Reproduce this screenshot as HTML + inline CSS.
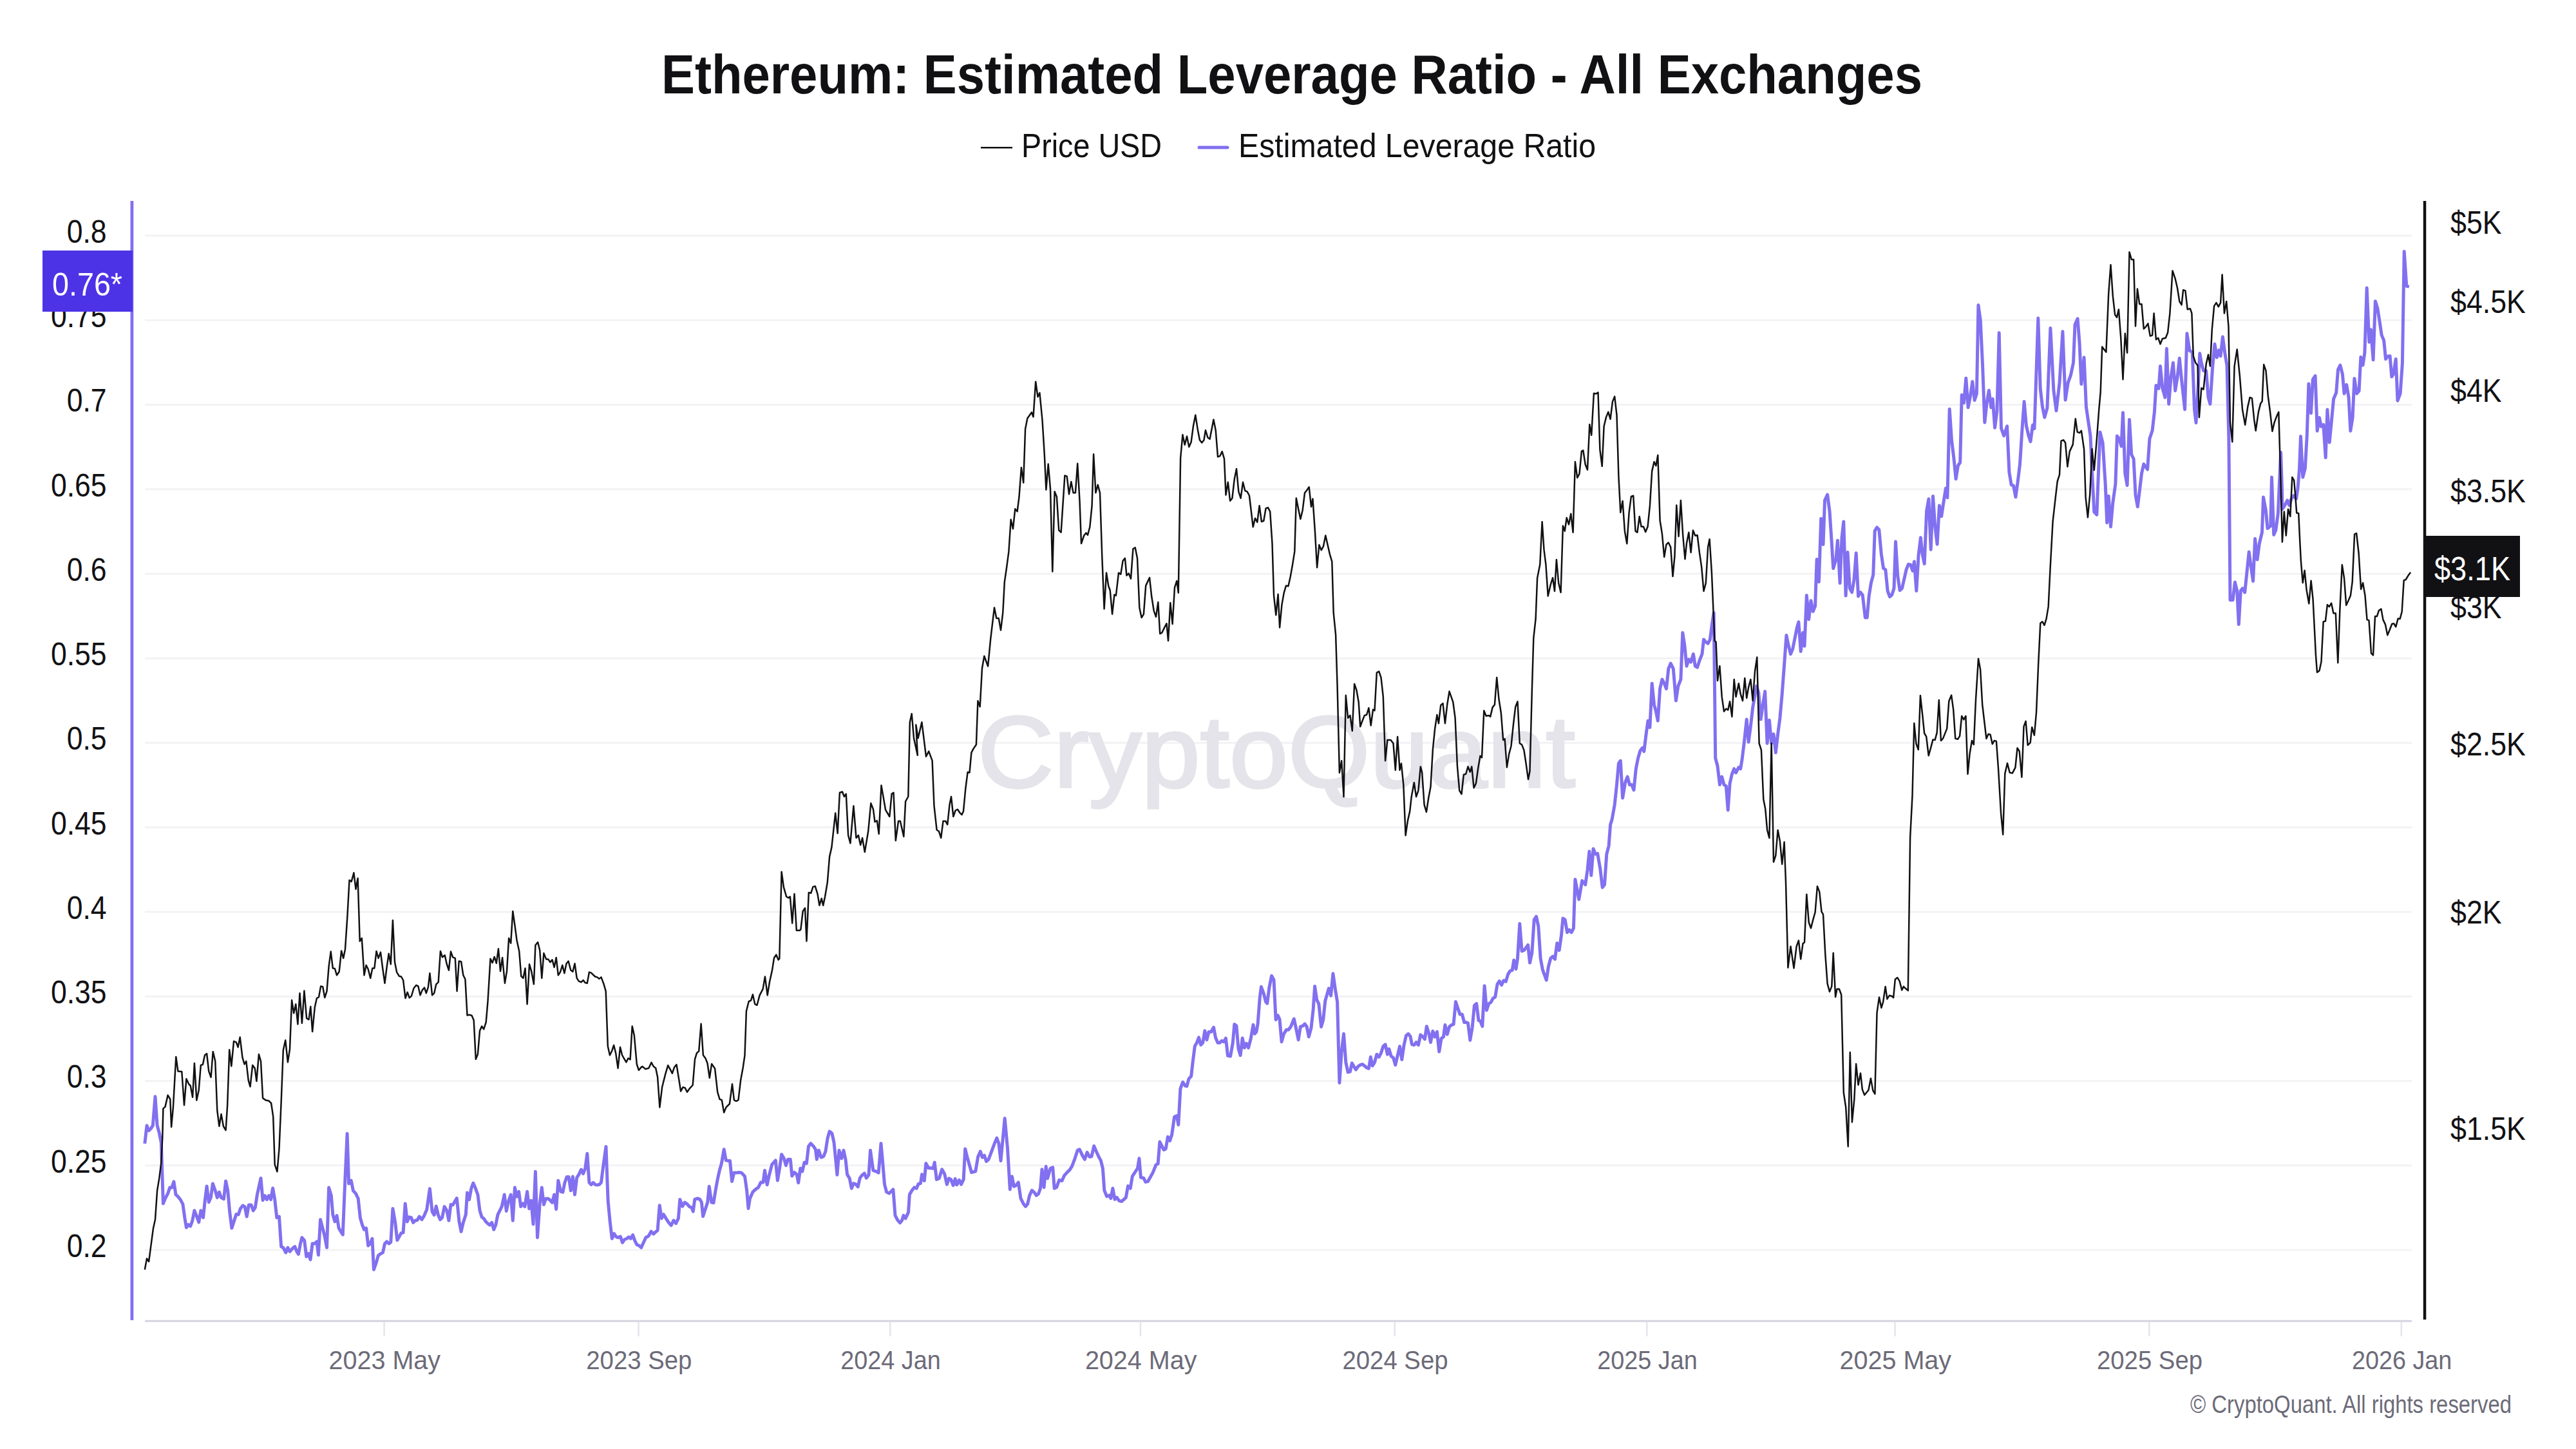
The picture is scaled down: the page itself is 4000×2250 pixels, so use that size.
<!DOCTYPE html>
<html><head><meta charset="utf-8"><style>
html,body{margin:0;padding:0;background:#fff;width:4000px;height:2250px;overflow:hidden}
svg{position:absolute;left:0;top:0}
text{font-family:"Liberation Sans",sans-serif}
</style></head><body>
<svg width="4000" height="2250" viewBox="0 0 4000 2250">
<rect width="4000" height="2250" fill="#fff"/>
<text x="1027" y="145" font-weight="bold" font-size="85" fill="#111114" textLength="1958" lengthAdjust="spacingAndGlyphs">Ethereum: Estimated Leverage Ratio - All Exchanges</text>
<rect x="1523" y="228" width="49" height="2.5" fill="#111114"/>
<text x="1586" y="243.5" font-size="52" fill="#111114" textLength="218" lengthAdjust="spacingAndGlyphs">Price USD</text>
<line x1="1862" x2="1906" y1="229" y2="229" stroke="#8170f0" stroke-width="5" stroke-linecap="round"/>
<text x="1923" y="243.5" font-size="52" fill="#111114" textLength="555" lengthAdjust="spacingAndGlyphs">Estimated Leverage Ratio</text>
<rect x="225" y="364.5" width="3520" height="3" fill="#f3f3f6"/><rect x="225" y="495.8" width="3520" height="3" fill="#f3f3f6"/><rect x="225" y="627.0" width="3520" height="3" fill="#f3f3f6"/><rect x="225" y="758.2" width="3520" height="3" fill="#f3f3f6"/><rect x="225" y="889.5" width="3520" height="3" fill="#f3f3f6"/><rect x="225" y="1020.8" width="3520" height="3" fill="#f3f3f6"/><rect x="225" y="1152.0" width="3520" height="3" fill="#f3f3f6"/><rect x="225" y="1283.2" width="3520" height="3" fill="#f3f3f6"/><rect x="225" y="1414.5" width="3520" height="3" fill="#f3f3f6"/><rect x="225" y="1545.8" width="3520" height="3" fill="#f3f3f6"/><rect x="225" y="1677.0" width="3520" height="3" fill="#f3f3f6"/><rect x="225" y="1808.2" width="3520" height="3" fill="#f3f3f6"/><rect x="225" y="1939.5" width="3520" height="3" fill="#f3f3f6"/>
<text x="1518" y="1222" font-size="157" fill="#e4e4ea" stroke="#e4e4ea" stroke-width="3.5" textLength="928" lengthAdjust="spacingAndGlyphs">CryptoQuant</text>
<rect x="225" y="2049.8" width="3520" height="3" fill="#d4d3df"/>
<rect x="595.3" y="2052" width="2.5" height="23" fill="#e4e4ec"/><text x="597.3" y="2125.8" text-anchor="middle" font-size="40" fill="#6c6b78" textLength="173.6" lengthAdjust="spacingAndGlyphs">2023 May</text><rect x="990.3" y="2052" width="2.5" height="23" fill="#e4e4ec"/><text x="992.3" y="2125.8" text-anchor="middle" font-size="40" fill="#6c6b78" textLength="164.1" lengthAdjust="spacingAndGlyphs">2023 Sep</text><rect x="1381.0" y="2052" width="2.5" height="23" fill="#e4e4ec"/><text x="1383.0" y="2125.8" text-anchor="middle" font-size="40" fill="#6c6b78" textLength="155.4" lengthAdjust="spacingAndGlyphs">2024 Jan</text><rect x="1769.7" y="2052" width="2.5" height="23" fill="#e4e4ec"/><text x="1771.7" y="2125.8" text-anchor="middle" font-size="40" fill="#6c6b78" textLength="173.6" lengthAdjust="spacingAndGlyphs">2024 May</text><rect x="2164.5" y="2052" width="2.5" height="23" fill="#e4e4ec"/><text x="2166.5" y="2125.8" text-anchor="middle" font-size="40" fill="#6c6b78" textLength="164.1" lengthAdjust="spacingAndGlyphs">2024 Sep</text><rect x="2556.0" y="2052" width="2.5" height="23" fill="#e4e4ec"/><text x="2558.0" y="2125.8" text-anchor="middle" font-size="40" fill="#6c6b78" textLength="155.4" lengthAdjust="spacingAndGlyphs">2025 Jan</text><rect x="2941.3" y="2052" width="2.5" height="23" fill="#e4e4ec"/><text x="2943.3" y="2125.8" text-anchor="middle" font-size="40" fill="#6c6b78" textLength="173.6" lengthAdjust="spacingAndGlyphs">2025 May</text><rect x="3336.0" y="2052" width="2.5" height="23" fill="#e4e4ec"/><text x="3338.0" y="2125.8" text-anchor="middle" font-size="40" fill="#6c6b78" textLength="164.1" lengthAdjust="spacingAndGlyphs">2025 Sep</text><rect x="3727.6" y="2052" width="2.5" height="23" fill="#e4e4ec"/><text x="3729.6" y="2125.8" text-anchor="middle" font-size="40" fill="#6c6b78" textLength="155.4" lengthAdjust="spacingAndGlyphs">2026 Jan</text>
<rect x="202.5" y="312" width="4.8" height="1738" fill="#8170f0"/>
<rect x="3762.8" y="312" width="4.5" height="1737" fill="#111114"/>
<text x="165.6" y="376.7" text-anchor="end" font-size="50" fill="#111114" textLength="61.9" lengthAdjust="spacingAndGlyphs">0.8</text><text x="165.6" y="508.0" text-anchor="end" font-size="50" fill="#111114" textLength="86.6" lengthAdjust="spacingAndGlyphs">0.75</text><text x="165.6" y="639.2" text-anchor="end" font-size="50" fill="#111114" textLength="61.9" lengthAdjust="spacingAndGlyphs">0.7</text><text x="165.6" y="770.5" text-anchor="end" font-size="50" fill="#111114" textLength="86.6" lengthAdjust="spacingAndGlyphs">0.65</text><text x="165.6" y="901.7" text-anchor="end" font-size="50" fill="#111114" textLength="61.9" lengthAdjust="spacingAndGlyphs">0.6</text><text x="165.6" y="1033.0" text-anchor="end" font-size="50" fill="#111114" textLength="86.6" lengthAdjust="spacingAndGlyphs">0.55</text><text x="165.6" y="1164.2" text-anchor="end" font-size="50" fill="#111114" textLength="61.9" lengthAdjust="spacingAndGlyphs">0.5</text><text x="165.6" y="1295.5" text-anchor="end" font-size="50" fill="#111114" textLength="86.6" lengthAdjust="spacingAndGlyphs">0.45</text><text x="165.6" y="1426.7" text-anchor="end" font-size="50" fill="#111114" textLength="61.9" lengthAdjust="spacingAndGlyphs">0.4</text><text x="165.6" y="1558.0" text-anchor="end" font-size="50" fill="#111114" textLength="86.6" lengthAdjust="spacingAndGlyphs">0.35</text><text x="165.6" y="1689.2" text-anchor="end" font-size="50" fill="#111114" textLength="61.9" lengthAdjust="spacingAndGlyphs">0.3</text><text x="165.6" y="1820.5" text-anchor="end" font-size="50" fill="#111114" textLength="86.6" lengthAdjust="spacingAndGlyphs">0.25</text><text x="165.6" y="1951.7" text-anchor="end" font-size="50" fill="#111114" textLength="61.9" lengthAdjust="spacingAndGlyphs">0.2</text>
<text x="3805" y="362.8" font-size="50" fill="#111114" textLength="79.6" lengthAdjust="spacingAndGlyphs">$5K</text><text x="3805" y="485.9" font-size="50" fill="#111114" textLength="116.9" lengthAdjust="spacingAndGlyphs">$4.5K</text><text x="3805" y="623.6" font-size="50" fill="#111114" textLength="79.6" lengthAdjust="spacingAndGlyphs">$4K</text><text x="3805" y="779.6" font-size="50" fill="#111114" textLength="116.9" lengthAdjust="spacingAndGlyphs">$3.5K</text><text x="3805" y="959.8" font-size="50" fill="#111114" textLength="79.6" lengthAdjust="spacingAndGlyphs">$3K</text><text x="3805" y="1172.9" font-size="50" fill="#111114" textLength="116.9" lengthAdjust="spacingAndGlyphs">$2.5K</text><text x="3805" y="1433.7" font-size="50" fill="#111114" textLength="79.6" lengthAdjust="spacingAndGlyphs">$2K</text><text x="3805" y="1769.9" font-size="50" fill="#111114" textLength="116.9" lengthAdjust="spacingAndGlyphs">$1.5K</text>
<polyline fill="none" stroke="#8170f0" stroke-width="5" stroke-linejoin="round" points="224.8,1775.8 228.0,1747.8 231.1,1755.6 234.2,1752.5 237.3,1747.8 241.0,1702.8 244.1,1747.8 247.2,1758.7 250.3,1774.2 253.4,1868.9 256.5,1861.2 260.6,1853.4 263.7,1844.1 266.8,1844.1 269.9,1834.8 273.0,1855.0 277.0,1858.7 280.1,1862.7 283.9,1869.9 287.0,1892.2 289.4,1906.2 292.5,1901.6 295.7,1904.0 298.8,1895.3 301.9,1879.8 305.6,1889.1 308.7,1897.8 311.8,1879.8 315.5,1890.7 318.6,1861.2 321.1,1841.9 324.2,1866.8 327.3,1859.6 330.4,1837.9 334.2,1848.8 337.3,1859.6 340.4,1851.2 343.5,1859.6 347.5,1861.8 350.6,1833.9 353.7,1848.8 356.8,1882.9 359.9,1907.1 363.7,1895.3 366.8,1885.4 370.2,1886.0 373.3,1876.7 377.0,1872.0 380.1,1873.6 383.2,1889.1 386.3,1871.1 390.1,1871.1 393.2,1879.8 396.3,1875.2 399.4,1855.0 405.0,1829.5 408.1,1863.7 411.2,1856.5 414.3,1862.7 417.4,1856.5 420.5,1862.7 423.6,1845.0 426.7,1862.7 429.8,1890.7 433.5,1889.1 436.6,1935.7 439.8,1937.3 443.8,1945.0 446.9,1937.3 450.0,1943.5 454.0,1938.8 457.8,1935.7 460.9,1943.5 463.4,1947.5 466.5,1931.1 468.9,1921.7 472.7,1926.4 475.8,1951.2 478.9,1946.6 482.0,1955.9 485.1,1931.1 488.8,1931.1 491.9,1928.0 494.4,1948.8 497.5,1893.8 501.2,1907.8 504.3,1920.2 507.5,1937.3 510.6,1844.1 514.3,1856.5 516.8,1886.0 519.9,1896.9 523.0,1887.6 526.1,1907.1 529.2,1912.4 532.3,1917.1 535.4,1842.5 539.1,1760.2 541.6,1837.9 545.3,1833.2 548.4,1848.8 552.5,1853.4 556.2,1861.2 559.3,1890.7 562.4,1901.6 565.5,1909.3 568.6,1907.1 571.7,1934.2 574.8,1931.1 578.0,1923.3 580.4,1971.4 584.2,1960.6 587.3,1949.7 591.3,1946.6 594.4,1945.0 597.5,1931.1 600.6,1928.0 603.7,1931.1 606.8,1928.9 609.9,1876.7 613.7,1898.4 616.8,1925.8 619.9,1920.2 623.0,1914.6 626.1,1914.0 629.2,1868.9 632.3,1896.9 635.4,1889.8 638.5,1890.7 641.6,1898.4 644.7,1895.3 647.8,1894.7 651.2,1889.1 655.0,1893.8 658.7,1887.6 662.7,1878.3 667.4,1845.7 671.1,1881.4 674.2,1886.6 677.3,1873.0 680.4,1886.6 683.5,1893.8 686.6,1890.7 690.1,1873.6 693.8,1879.8 696.9,1895.3 700.0,1870.5 703.1,1871.1 706.2,1865.8 709.3,1860.6 713.0,1896.9 716.1,1912.4 719.3,1898.4 723.3,1886.0 725.5,1851.9 728.6,1862.7 731.7,1845.7 734.8,1837.0 737.9,1844.1 741.9,1855.0 745.0,1879.8 748.1,1889.8 751.2,1892.2 754.3,1896.9 757.5,1900.0 760.6,1902.2 763.7,1898.4 766.8,1909.3 769.9,1901.6 773.0,1886.0 776.1,1879.8 779.2,1873.6 783.2,1855.0 786.3,1880.4 789.4,1865.8 793.2,1855.0 796.3,1895.3 799.4,1844.1 802.5,1858.1 805.6,1850.3 808.7,1873.6 811.8,1868.9 814.9,1873.6 818.6,1850.3 821.7,1876.7 824.8,1864.3 828.0,1900.9 831.4,1819.3 834.5,1921.7 838.2,1868.9 841.3,1844.1 844.4,1870.5 847.5,1861.2 851.2,1861.2 854.3,1863.7 857.5,1867.4 860.6,1855.0 863.7,1877.6 866.8,1833.2 870.8,1850.3 873.9,1851.2 877.0,1836.3 880.1,1827.6 883.2,1827.6 886.3,1848.8 889.4,1827.0 892.5,1855.0 895.7,1828.6 898.8,1823.9 902.5,1816.1 905.6,1822.4 908.7,1814.6 911.8,1791.3 914.9,1836.3 918.0,1839.4 921.1,1836.3 924.2,1839.4 927.3,1840.1 930.4,1839.4 933.5,1836.3 936.6,1811.5 941.0,1780.4 944.1,1864.3 947.2,1896.9 950.3,1923.3 953.4,1915.5 956.5,1920.2 959.6,1921.7 963.4,1920.2 966.5,1929.5 969.6,1924.8 973.3,1923.3 976.4,1920.8 979.5,1923.3 982.6,1917.7 985.7,1926.4 988.8,1932.6 992.5,1934.2 995.7,1937.3 999.3,1929.2 1003.0,1921.4 1007.1,1919.3 1011.1,1912.1 1014.8,1916.1 1018.0,1913.0 1021.1,1910.6 1024.2,1871.7 1027.3,1891.9 1030.4,1885.7 1034.1,1891.9 1038.1,1898.1 1042.2,1902.8 1045.9,1895.0 1049.6,1899.7 1053.4,1891.9 1055.8,1862.4 1059.6,1873.3 1063.3,1867.1 1067.0,1869.6 1070.7,1873.9 1073.9,1874.8 1076.3,1881.1 1078.8,1862.4 1083.2,1860.9 1086.9,1862.4 1089.4,1867.1 1091.6,1888.8 1095.6,1876.4 1098.7,1867.1 1101.2,1842.2 1104.9,1867.1 1108.0,1867.7 1111.1,1848.4 1114.2,1831.4 1117.3,1817.4 1120.4,1806.5 1124.2,1784.8 1127.3,1801.9 1131.3,1802.5 1133.5,1802.5 1136.6,1834.5 1139.7,1821.1 1143.7,1821.1 1147.8,1820.5 1151.5,1821.1 1156.5,1826.7 1159.6,1848.4 1162.0,1876.4 1164.5,1860.9 1168.9,1850.9 1173.2,1846.9 1177.6,1843.8 1181.3,1836.0 1185.0,1836.0 1187.5,1817.4 1191.2,1839.8 1194.3,1825.2 1198.7,1808.1 1204.3,1801.9 1207.4,1832.9 1210.5,1814.3 1213.6,1792.5 1217.3,1798.8 1220.4,1809.6 1223.5,1800.3 1227.3,1800.3 1229.8,1826.1 1233.5,1820.5 1237.2,1823.6 1239.7,1836.6 1242.8,1814.3 1245.9,1818.9 1249.0,1805.0 1252.4,1806.5 1255.5,1780.1 1258.9,1775.5 1263.3,1780.1 1266.4,1784.8 1268.3,1800.3 1271.4,1786.3 1275.1,1797.2 1278.8,1795.7 1281.9,1787.9 1285.0,1767.7 1288.1,1756.8 1291.9,1759.9 1295.0,1773.9 1297.5,1798.8 1299.9,1824.2 1303.0,1786.3 1306.8,1798.8 1309.9,1786.3 1313.0,1800.3 1315.5,1823.6 1319.2,1829.8 1322.3,1845.3 1325.4,1837.6 1329.1,1839.1 1332.2,1842.9 1335.3,1829.2 1339.1,1824.2 1342.2,1822.0 1345.3,1829.2 1349.0,1824.2 1351.5,1786.3 1355.8,1817.4 1360.2,1818.9 1364.2,1821.1 1368.0,1775.5 1370.4,1801.9 1373.5,1839.1 1376.6,1850.9 1380.7,1853.1 1383.8,1850.0 1386.9,1846.9 1390.0,1887.3 1393.7,1894.4 1397.5,1898.8 1400.6,1895.0 1403.0,1887.3 1406.1,1891.9 1410.5,1882.6 1412.4,1854.7 1416.1,1848.4 1419.8,1843.8 1423.2,1845.3 1426.0,1838.5 1429.4,1837.6 1431.6,1823.6 1435.3,1833.5 1437.8,1806.5 1441.9,1813.7 1445.3,1813.7 1449.0,1814.3 1451.2,1805.0 1454.3,1831.4 1458.3,1829.8 1462.7,1815.8 1466.7,1823.0 1470.4,1839.1 1473.5,1829.8 1476.6,1831.4 1480.1,1840.7 1483.2,1830.4 1485.7,1839.8 1489.4,1832.3 1492.5,1839.1 1496.2,1831.4 1498.7,1783.9 1502.4,1798.8 1508.6,1820.5 1514.8,1818.9 1518.6,1796.3 1522.3,1787.9 1525.4,1797.2 1528.5,1794.1 1531.6,1803.4 1535.0,1800.3 1539.7,1787.9 1544.3,1775.5 1547.8,1767.1 1550.9,1775.5 1554.0,1802.5 1560.2,1736.6 1564.5,1783.2 1568.3,1846.9 1571.4,1826.7 1574.5,1842.2 1577.6,1840.7 1581.3,1836.0 1585.0,1860.9 1589.4,1869.6 1592.5,1873.3 1595.6,1869.6 1598.7,1856.2 1602.4,1848.4 1606.1,1851.6 1609.3,1856.2 1612.4,1854.0 1615.5,1845.3 1618.0,1815.8 1621.1,1843.8 1624.2,1811.2 1626.6,1829.8 1631.0,1814.3 1634.7,1812.7 1637.2,1845.3 1640.6,1843.8 1644.7,1832.3 1649.0,1833.5 1652.7,1825.2 1656.5,1821.1 1660.8,1816.8 1664.5,1811.2 1668.6,1800.3 1673.2,1786.3 1676.3,1784.8 1680.7,1794.1 1684.4,1800.3 1688.1,1789.4 1691.9,1796.3 1695.0,1795.7 1698.7,1779.5 1703.0,1789.4 1706.1,1796.3 1709.3,1801.9 1712.4,1814.3 1714.8,1848.4 1718.6,1857.8 1722.3,1856.2 1724.8,1860.9 1727.9,1845.3 1731.0,1862.4 1734.1,1859.3 1737.8,1864.6 1741.6,1865.5 1745.3,1862.4 1748.4,1859.3 1751.5,1841.6 1755.2,1845.3 1758.3,1826.7 1763.3,1818.9 1766.4,1814.3 1768.9,1798.8 1771.4,1828.3 1775.7,1829.2 1778.8,1835.4 1782.5,1834.5 1790.0,1821.1 1792.5,1814.9 1795.0,1808.7 1798.1,1807.1 1800.9,1773.0 1804.0,1779.2 1807.1,1785.4 1810.2,1783.9 1813.4,1765.2 1816.5,1771.4 1819.6,1762.1 1823.6,1734.2 1827.3,1732.6 1829.8,1746.6 1832.9,1690.7 1836.6,1680.4 1840.4,1686.0 1842.9,1686.6 1846.0,1675.2 1849.7,1671.1 1852.2,1648.8 1855.3,1624.5 1858.4,1619.3 1861.5,1610.9 1864.6,1622.4 1867.7,1619.3 1870.8,1600.6 1873.9,1614.6 1877.0,1602.2 1880.7,1602.2 1884.5,1595.3 1887.6,1611.5 1891.0,1619.3 1894.1,1619.3 1897.2,1616.1 1900.3,1617.7 1903.4,1612.1 1906.5,1639.4 1910.6,1640.1 1914.3,1619.3 1916.8,1590.4 1919.9,1592.9 1923.0,1628.6 1926.1,1638.8 1929.2,1612.1 1932.3,1627.0 1935.4,1620.2 1938.5,1627.0 1942.2,1613.0 1946.0,1591.3 1948.4,1605.3 1950.9,1602.2 1953.1,1589.8 1956.2,1549.4 1958.4,1532.3 1962.4,1543.2 1965.5,1555.6 1967.7,1558.1 1970.8,1533.9 1974.5,1515.2 1978.0,1521.4 1981.1,1583.5 1984.2,1576.7 1987.0,1582.9 1990.1,1617.7 1993.5,1605.3 1997.5,1599.1 2000.6,1599.1 2004.3,1594.4 2009.3,1582.0 2013.0,1599.1 2016.1,1614.6 2019.3,1594.4 2023.0,1592.9 2026.1,1589.8 2029.2,1594.4 2032.3,1609.9 2036.0,1596.0 2039.1,1568.0 2041.6,1531.4 2044.7,1552.5 2047.8,1558.7 2051.6,1594.4 2054.7,1583.5 2057.8,1554.0 2063.3,1534.9 2066.6,1546.1 2069.9,1511.7 2073.3,1535.7 2076.6,1555.6 2079.9,1681.5 2083.2,1633.0 2086.5,1605.3 2089.8,1649.6 2093.1,1664.9 2096.4,1664.1 2099.3,1650.8 2102.2,1655.8 2105.5,1660.8 2108.9,1655.8 2112.2,1653.7 2115.5,1652.5 2118.8,1655.0 2122.1,1657.9 2125.4,1659.1 2128.3,1641.3 2131.2,1655.0 2134.5,1649.6 2137.8,1637.2 2141.2,1641.3 2144.5,1635.1 2147.8,1624.7 2151.1,1621.8 2154.4,1637.2 2156.9,1628.9 2160.2,1640.1 2163.5,1642.5 2166.8,1653.7 2170.1,1639.2 2173.5,1624.7 2176.8,1645.4 2180.1,1622.7 2183.4,1608.2 2186.7,1605.3 2190.0,1609.4 2192.5,1621.8 2195.8,1622.7 2199.1,1618.5 2202.4,1622.7 2205.8,1606.9 2209.1,1609.4 2212.4,1613.6 2215.3,1593.7 2218.6,1604.0 2221.5,1618.5 2224.8,1601.1 2228.1,1610.2 2231.4,1602.0 2234.7,1633.0 2238.1,1612.3 2241.4,1610.2 2243.9,1591.6 2247.2,1606.1 2250.5,1594.5 2253.8,1591.6 2257.1,1590.4 2260.4,1555.6 2263.7,1565.5 2267.0,1575.1 2270.4,1575.1 2273.7,1587.5 2277.0,1587.5 2279.5,1588.7 2282.8,1615.2 2286.1,1595.8 2289.4,1561.4 2292.7,1558.5 2296.0,1584.6 2298.5,1585.4 2301.8,1593.7 2305.1,1530.7 2308.4,1568.8 2311.8,1558.5 2315.1,1556.4 2318.4,1550.2 2321.7,1548.1 2325.0,1528.3 2328.3,1523.3 2331.6,1529.5 2334.9,1522.5 2338.3,1524.1 2341.6,1512.9 2344.9,1507.6 2348.2,1506.7 2350.7,1491.0 2354.0,1504.7 2356.5,1488.1 2359.8,1434.3 2363.1,1476.9 2366.4,1475.7 2369.7,1471.5 2372.6,1467.4 2375.5,1495.1 2378.8,1479.8 2382.2,1428.1 2385.5,1423.1 2388.8,1438.4 2392.1,1488.1 2395.4,1505.9 2398.7,1515.0 2401.2,1522.0 2404.5,1500.5 2407.8,1488.1 2411.1,1485.2 2414.5,1489.3 2417.8,1464.5 2421.1,1475.7 2424.4,1452.9 2426.9,1426.0 2430.2,1428.1 2433.5,1447.9 2436.8,1443.8 2440.1,1447.9 2443.4,1441.3 2445.9,1365.5 2451.7,1396.6 2456.7,1367.6 2461.7,1373.8 2465.0,1351.0 2467.9,1322.0 2470.8,1359.3 2474.1,1317.9 2477.4,1326.2 2480.7,1325.4 2484.8,1349.0 2488.2,1378.0 2491.5,1373.8 2494.8,1326.2 2498.1,1313.8 2500.6,1280.6 2503.1,1272.4 2507.2,1249.6 2510.5,1218.5 2513.4,1185.4 2516.3,1181.3 2519.6,1239.2 2523.8,1214.4 2527.1,1206.1 2530.4,1218.5 2533.7,1218.5 2537.0,1226.8 2540.3,1193.7 2543.6,1177.1 2547.0,1165.5 2550.3,1161.4 2552.8,1166.8 2556.1,1139.9 2559.0,1119.2 2561.9,1129.5 2565.2,1061.2 2568.5,1094.3 2571.4,1104.7 2574.3,1119.2 2577.6,1069.5 2580.9,1055.0 2584.2,1061.2 2587.5,1069.5 2590.8,1038.4 2594.2,1030.1 2598.3,1038.4 2602.4,1088.1 2605.8,1065.3 2609.9,1055.0 2612.8,982.5 2615.7,1001.1 2619.0,1034.3 2622.3,1023.9 2625.6,1028.1 2629.4,1015.6 2632.3,1034.3 2635.6,1036.3 2638.9,1026.0 2643.0,1015.6 2645.5,992.9 2648.8,997.0 2652.1,999.1 2655.4,992.9 2658.3,970.1 2661.2,951.4 2663.7,1177.1 2667.0,1189.5 2670.4,1218.5 2673.7,1206.1 2677.0,1218.5 2680.3,1220.6 2683.2,1257.9 2686.1,1216.5 2689.4,1202.0 2692.7,1193.7 2695.6,1199.9 2699.8,1191.6 2702.7,1193.7 2705.1,1179.2 2708.4,1152.3 2712.2,1117.1 2715.1,1152.3 2718.4,1127.4 2721.7,1098.4 2725.0,1079.8 2727.5,1065.3 2730.8,1075.7 2734.1,1117.1 2737.4,1094.3 2740.7,1073.6 2744.1,1154.3 2747.4,1118.3 2750.7,1154.3 2754.0,1139.9 2757.3,1168.8 2760.6,1139.9 2763.9,1115.0 2767.2,1077.7 2770.6,1032.2 2773.9,986.6 2776.4,999.1 2780.5,1015.6 2783.8,1007.3 2787.1,990.8 2790.4,974.2 2792.9,965.9 2796.2,1011.5 2799.5,982.5 2802.0,1003.2 2805.3,924.5 2808.7,961.8 2812.0,932.8 2815.3,949.4 2818.6,941.1 2821.1,868.6 2824.4,903.4 2827.7,805.3 2831.0,845.4 2833.5,777.1 2837.6,768.0 2841.0,793.7 2843.9,837.2 2846.7,882.7 2850.9,868.2 2853.4,839.2 2857.1,905.5 2860.0,835.1 2862.8,809.9 2866.1,925.1 2869.0,857.6 2872.3,913.5 2875.6,919.7 2878.9,901.0 2882.2,858.8 2885.5,925.9 2888.9,919.7 2892.2,923.8 2896.3,959.0 2899.2,959.0 2902.1,925.9 2905.4,905.2 2908.7,892.8 2911.2,824.4 2914.5,819.0 2917.8,822.4 2921.2,859.6 2924.5,882.4 2927.8,884.5 2931.1,917.6 2934.4,926.7 2937.7,923.8 2941.0,913.5 2943.5,841.0 2946.8,894.8 2950.1,916.8 2953.5,913.5 2956.8,899.0 2960.1,884.5 2963.4,876.2 2966.7,877.0 2970.0,886.5 2972.5,872.0 2975.8,917.6 2979.1,861.7 2982.4,834.8 2984.9,859.6 2988.2,875.4 2991.6,793.4 2994.9,774.7 2998.2,853.4 3001.5,770.6 3004.8,818.2 3008.1,845.1 3011.4,785.1 3014.7,801.7 3018.1,778.9 3021.4,758.2 3023.9,772.7 3027.2,635.2 3030.5,683.6 3033.8,710.6 3037.1,743.7 3040.4,723.0 3043.7,718.0 3046.2,613.3 3049.5,625.7 3052.8,587.2 3056.1,632.7 3059.5,615.3 3062.8,592.5 3066.1,621.5 3069.4,611.2 3071.9,473.7 3075.2,497.3 3078.5,565.6 3081.8,655.9 3085.1,625.7 3088.4,606.2 3091.8,632.7 3094.2,619.5 3097.6,664.2 3100.9,638.1 3104.2,516.8 3107.5,665.0 3111.6,676.6 3116.6,661.7 3119.9,733.3 3123.2,752.8 3126.5,754.0 3129.9,771.8 3133.2,747.8 3136.5,720.9 3139.8,669.2 3143.1,623.6 3146.4,660.9 3149.7,675.4 3153.0,685.7 3156.4,660.0 3159.0,665.5 3164.8,494.1 3168.2,603.4 3171.5,631.6 3174.8,648.1 3178.9,633.6 3183.9,509.4 3188.9,606.7 3193.0,637.8 3198.0,594.3 3202.9,514.8 3207.1,621.2 3211.2,594.3 3215.4,582.7 3219.5,563.3 3222.0,504.0 3226.1,494.9 3229.0,532.2 3231.9,596.4 3236.1,555.0 3239.4,631.6 3242.7,654.3 3246.0,677.1 3249.3,747.5 3251.8,795.1 3255.9,799.3 3260.9,670.9 3265.1,687.5 3269.2,751.7 3271.7,811.7 3274.2,770.3 3277.5,817.9 3280.8,780.6 3284.9,751.7 3287.4,677.1 3290.7,681.3 3294.0,692.9 3296.5,640.7 3299.8,735.1 3303.1,753.7 3306.5,651.4 3309.8,706.1 3313.1,712.3 3316.0,768.2 3319.3,786.9 3322.6,759.9 3325.5,735.1 3328.8,720.6 3334.6,728.9 3337.9,681.3 3342.1,668.8 3345.4,639.9 3347.9,598.4 3352.0,603.4 3354.5,568.6 3357.8,602.6 3361.9,617.1 3364.4,541.3 3367.7,627.4 3371.1,585.2 3374.4,563.3 3377.7,606.7 3381.0,586.0 3384.3,556.2 3387.6,590.2 3392.6,635.7 3395.9,517.7 3400.0,544.6 3404.2,546.7 3407.5,635.7 3410.0,656.4 3413.3,598.4 3415.8,548.8 3418.3,563.3 3421.6,575.7 3425.7,575.7 3429.0,617.1 3431.9,627.4 3435.7,569.5 3439.0,534.3 3442.3,555.0 3445.6,543.8 3448.1,552.9 3451.4,523.1 3454.7,547.9 3458.0,567.4 3460.9,681.3 3463.0,931.8 3467.1,931.8 3470.4,904.0 3473.7,917.3 3476.3,969.6 3479.3,917.4 3482.2,913.7 3485.7,919.9 3488.7,891.3 3492.2,857.0 3495.2,878.9 3498.6,902.5 3501.6,836.6 3505.1,868.9 3508.3,844.1 3512.5,826.7 3514.5,772.0 3518.3,791.9 3521.0,820.5 3525.7,816.8 3527.5,741.0 3530.7,830.4 3533.9,823.0 3537.4,796.9 3541.6,702.3 3543.5,760.0 3543.9,790.7 3547.3,785.7 3551.8,777.0 3554.8,784.5 3558.0,774.5 3561.7,769.6 3565.5,774.5 3568.0,758.4 3570.4,729.8 3572.5,677.5 3575.8,741.0 3579.4,727.1 3582.2,677.5 3584.9,596.0 3588.5,641.6 3591.3,589.1 3595.1,583.6 3598.2,669.2 3601.5,648.5 3604.3,662.3 3607.8,659.5 3611.2,710.6 3613.9,636.1 3617.2,687.1 3620.0,658.1 3623.6,619.5 3627.7,609.8 3630.5,573.9 3633.8,567.0 3637.4,580.8 3640.1,611.2 3643.7,597.4 3647.0,616.7 3649.8,669.2 3653.1,648.5 3655.9,587.7 3659.5,611.2 3663.1,607.1 3665.8,554.6 3669.1,567.0 3671.9,547.7 3675.2,447.0 3678.8,531.2 3681.5,511.8 3685.1,558.8 3688.4,467.7 3691.8,478.7 3695.3,500.8 3698.1,520.1 3701.7,528.9 3704.5,557.4 3707.8,553.2 3711.1,552.7 3713.8,585.0 3716.6,580.8 3720.2,557.4 3723.0,622.2 3727.1,611.2 3730.4,564.3 3733.2,390.4 3736.8,444.2 3740.9,445.0"/>
<polyline fill="none" stroke="#111114" stroke-width="2.5" stroke-linejoin="round" points="224.8,1971.4 228.0,1954.3 231.1,1959.0 234.2,1935.7 237.9,1907.8 241.0,1893.8 244.1,1848.8 247.2,1830.1 250.3,1805.3 252.2,1768.0 253.4,1721.4 256.5,1718.6 260.6,1700.6 264.3,1706.8 266.1,1750.0 268.9,1719.3 273.3,1641.0 276.4,1663.4 282.3,1664.0 286.0,1716.1 289.4,1675.2 293.2,1683.5 295.7,1685.7 299.1,1703.7 301.9,1650.9 305.3,1708.4 308.7,1692.9 311.8,1654.0 314.9,1653.1 318.0,1638.5 321.1,1636.0 324.2,1663.4 327.6,1672.7 330.7,1632.9 334.2,1647.8 337.3,1724.5 340.4,1748.8 343.5,1730.1 346.9,1748.8 350.6,1755.0 353.1,1716.8 356.2,1630.1 359.3,1655.6 363.0,1616.8 366.8,1618.3 369.6,1626.1 372.7,1610.6 376.4,1641.6 379.5,1652.5 382.3,1647.8 385.7,1677.3 388.5,1687.3 392.2,1654.0 395.7,1658.7 398.4,1678.9 401.9,1637.0 405.0,1647.8 408.1,1705.3 412.7,1708.4 417.4,1709.3 421.1,1713.0 424.2,1733.9 426.7,1808.4 430.4,1819.3 433.5,1783.5 436.6,1712.1 439.8,1630.7 443.2,1615.2 446.9,1649.4 450.0,1629.2 453.1,1553.1 456.2,1573.3 459.3,1559.3 462.4,1590.4 465.5,1542.2 468.9,1588.8 472.4,1538.5 476.1,1581.1 479.5,1583.2 482.3,1563.0 485.1,1601.9 488.8,1564.0 491.9,1550.0 495.0,1548.4 498.1,1531.4 501.2,1532.3 504.3,1549.1 507.5,1539.1 510.6,1500.3 513.7,1477.6 516.8,1503.4 519.9,1504.0 523.0,1514.3 526.7,1508.7 530.1,1476.4 533.2,1487.9 536.0,1473.9 539.4,1422.7 542.5,1366.8 545.7,1368.9 549.4,1355.3 552.5,1380.7 555.6,1363.7 558.7,1461.5 561.8,1456.8 565.5,1514.3 568.6,1498.8 571.7,1505.0 575.2,1518.9 578.3,1503.4 581.4,1503.4 584.5,1477.0 587.6,1487.9 591.0,1478.6 594.4,1505.0 597.5,1526.7 600.6,1501.9 603.7,1480.7 606.8,1497.2 609.9,1428.9 613.0,1494.1 616.1,1509.6 619.9,1515.8 623.0,1516.5 626.1,1522.0 629.5,1550.0 632.6,1540.7 635.7,1549.4 638.8,1546.9 642.5,1534.5 646.3,1529.8 649.4,1531.4 652.5,1545.3 655.6,1537.6 659.0,1533.5 661.8,1542.2 664.9,1532.9 667.4,1511.2 671.1,1545.3 674.2,1542.2 677.3,1528.3 680.7,1525.2 683.9,1477.0 687.0,1486.3 690.7,1483.2 693.8,1497.2 696.9,1506.5 700.0,1477.6 703.1,1486.3 706.8,1487.9 709.6,1539.1 712.7,1492.5 716.1,1493.2 719.3,1514.3 722.4,1520.5 725.5,1576.4 729.5,1575.8 732.6,1577.0 735.7,1584.2 738.8,1644.7 741.9,1637.0 745.0,1600.6 748.1,1593.5 751.2,1598.1 754.7,1587.3 757.5,1554.7 761.5,1488.8 764.6,1495.0 767.7,1485.7 770.8,1495.7 773.9,1473.3 777.0,1508.1 780.1,1487.0 783.9,1526.7 787.0,1508.1 790.1,1456.8 793.2,1464.6 796.3,1414.9 799.4,1436.6 802.5,1459.9 806.2,1477.0 809.3,1515.8 812.4,1518.9 815.5,1503.4 818.6,1559.3 822.0,1497.2 825.2,1508.1 828.9,1528.3 831.4,1467.7 835.1,1463.0 838.2,1475.5 841.3,1518.9 844.4,1480.1 848.1,1489.4 851.2,1489.4 854.3,1494.1 857.5,1490.4 860.6,1501.9 863.7,1487.0 866.8,1514.3 869.9,1509.6 873.3,1498.8 876.4,1511.2 879.5,1496.3 882.6,1492.5 886.3,1506.5 889.4,1508.7 892.5,1496.3 895.7,1518.9 898.8,1523.6 902.5,1525.2 905.6,1522.0 908.7,1526.1 911.8,1526.7 914.9,1509.6 918.0,1510.6 921.1,1513.7 924.2,1516.5 927.3,1517.4 930.4,1519.9 933.5,1517.4 937.6,1528.3 940.7,1539.1 943.8,1624.5 946.9,1638.5 950.0,1632.3 953.1,1623.0 956.2,1635.4 959.6,1658.7 963.0,1626.1 966.1,1638.5 969.3,1644.1 972.4,1649.4 975.5,1643.2 978.6,1645.3 981.7,1593.5 984.8,1607.5 988.8,1652.5 991.9,1661.8 995.7,1657.1 997.5,1656.0 1002.4,1660.1 1007.4,1658.5 1011.5,1649.8 1014.8,1656.0 1018.2,1658.5 1021.1,1672.6 1024.4,1719.4 1028.1,1688.3 1033.1,1668.4 1037.2,1654.3 1040.5,1660.1 1043.8,1666.8 1047.1,1657.2 1050.5,1653.1 1054.2,1675.9 1057.1,1694.5 1060.4,1688.3 1063.7,1689.1 1067.0,1695.8 1070.7,1690.4 1075.7,1685.0 1079.0,1644.8 1081.9,1635.3 1085.2,1632.4 1088.6,1589.8 1091.9,1638.6 1095.6,1643.6 1098.5,1651.0 1101.8,1673.8 1105.1,1651.9 1110.1,1659.3 1114.2,1695.8 1117.5,1706.9 1120.8,1708.2 1124.2,1727.6 1127.5,1719.4 1132.9,1714.0 1137.0,1683.3 1139.9,1708.2 1143.2,1709.8 1146.5,1708.2 1150.2,1676.7 1153.6,1658.5 1156.5,1638.6 1158.9,1570.3 1162.7,1555.0 1166.0,1553.7 1168.9,1544.2 1172.2,1559.1 1175.5,1560.8 1179.6,1545.4 1184.6,1535.9 1187.9,1516.5 1191.7,1545.4 1195.0,1524.7 1199.1,1506.1 1202.0,1487.5 1205.3,1482.5 1208.6,1490.4 1210.3,1488.7 1213.6,1353.7 1216.9,1377.7 1221.1,1392.2 1224.4,1394.3 1226.9,1392.2 1230.2,1433.6 1233.5,1388.1 1236.8,1444.8 1241.8,1444.8 1243.4,1443.2 1246.7,1415.0 1250.0,1410.0 1252.5,1461.4 1255.8,1386.0 1259.2,1386.9 1262.5,1376.9 1265.8,1376.1 1269.5,1388.1 1272.4,1405.9 1275.7,1395.1 1278.2,1405.9 1281.1,1392.2 1284.8,1370.3 1288.1,1330.1 1291.4,1315.6 1297.2,1262.6 1300.6,1294.1 1303.9,1230.7 1308.0,1229.5 1310.9,1237.0 1313.8,1232.8 1317.1,1297.0 1320.4,1309.4 1325.4,1251.4 1329.5,1301.1 1332.9,1297.0 1336.2,1312.3 1339.1,1301.1 1342.8,1323.1 1348.2,1290.8 1352.3,1247.3 1356.0,1256.8 1358.5,1276.3 1361.8,1274.2 1364.7,1294.9 1368.5,1219.6 1375.1,1257.7 1381.3,1268.0 1384.6,1232.8 1387.5,1230.7 1390.8,1305.3 1395.0,1275.1 1397.9,1275.1 1403.3,1299.1 1406.1,1244.4 1410.3,1237.0 1412.8,1121.4 1415.7,1108.2 1419.0,1146.3 1424.8,1172.8 1422.3,1125.6 1425.6,1146.3 1431.4,1121.4 1438.0,1174.8 1442.2,1166.6 1447.6,1181.1 1450.5,1251.4 1454.6,1288.7 1457.9,1290.8 1461.2,1301.1 1464.5,1275.1 1468.3,1275.1 1471.2,1280.4 1474.5,1249.4 1477.0,1237.0 1480.3,1268.0 1483.6,1258.5 1486.9,1256.8 1490.2,1261.8 1493.5,1265.1 1496.0,1259.7 1499.3,1224.5 1502.6,1198.9 1505.5,1199.7 1508.4,1168.6 1511.7,1162.4 1515.9,1156.2 1518.4,1088.3 1521.7,1097.4 1525.0,1037.8 1528.3,1018.7 1534.1,1034.5 1538.2,992.2 1544.0,943.4 1547.3,959.9 1550.7,959.9 1554.0,978.6 1557.3,950.8 1559.8,904.0 1563.1,881.3 1566.4,856.4 1569.7,806.7 1573.0,821.2 1576.3,790.2 1579.6,794.3 1582.5,771.5 1585.9,726.0 1589.2,749.6 1592.1,665.9 1595.4,649.4 1602.0,640.3 1604.5,647.3 1608.2,592.7 1611.5,616.3 1614.4,610.0 1618.6,653.5 1621.9,707.3 1624.4,760.4 1627.7,720.6 1631.0,759.1 1634.3,887.5 1637.6,763.3 1640.9,771.5 1644.2,823.3 1647.6,826.6 1653.4,738.4 1656.7,739.6 1660.0,767.4 1663.3,747.9 1666.6,765.3 1669.9,765.3 1673.2,719.8 1676.5,777.7 1679.0,844.0 1683.2,831.6 1686.5,827.4 1689.0,830.7 1692.3,818.3 1695.6,785.2 1698.1,705.3 1701.4,765.3 1704.7,752.9 1708.0,765.3 1711.3,864.7 1714.6,945.4 1718.0,889.5 1721.3,910.2 1723.7,916.5 1727.1,953.7 1730.4,923.5 1732.9,924.7 1737.0,889.5 1740.3,891.6 1743.6,870.9 1746.9,866.8 1749.4,893.7 1752.7,890.4 1756.0,898.7 1759.4,852.3 1762.7,850.2 1766.0,866.8 1769.3,943.4 1772.6,959.1 1775.9,953.7 1779.2,909.4 1785.0,897.0 1788.3,926.8 1791.7,948.3 1795.0,957.9 1798.3,935.1 1801.2,984.0 1804.1,982.7 1808.2,974.4 1811.5,968.2 1814.0,995.1 1817.3,935.9 1820.6,969.0 1824.0,912.3 1827.3,902.0 1829.8,920.6 1833.1,711.5 1836.4,675.1 1839.7,690.8 1843.0,677.5 1846.3,694.1 1849.6,686.6 1852.9,661.8 1856.3,644.4 1859.6,665.9 1862.9,683.3 1866.2,687.5 1869.5,683.3 1872.0,668.0 1875.3,679.2 1878.6,681.7 1884.4,651.4 1887.7,668.0 1891.0,709.4 1894.3,708.2 1897.7,701.1 1901.0,712.3 1903.5,768.6 1906.8,748.8 1910.1,777.7 1913.4,773.6 1916.7,744.6 1920.0,728.1 1923.3,763.3 1926.6,773.6 1930.0,748.8 1933.3,762.0 1936.6,763.3 1939.9,769.5 1942.4,790.2 1945.7,818.3 1949.0,804.7 1952.3,810.9 1955.6,785.2 1958.9,810.0 1962.3,808.8 1965.6,789.3 1968.9,788.1 1972.2,794.3 1975.5,844.0 1978.0,924.7 1981.3,955.0 1984.6,922.7 1987.1,974.4 1990.4,939.2 1993.7,920.6 1997.0,909.4 2000.4,910.2 2003.7,895.8 2007.0,877.1 2010.3,856.4 2012.8,773.6 2016.1,790.2 2019.4,805.9 2022.7,792.2 2026.0,765.3 2029.3,761.2 2032.7,756.2 2036.0,786.9 2038.4,774.4 2041.8,823.3 2045.1,881.3 2048.4,846.1 2051.7,854.3 2055.0,848.1 2058.3,831.6 2061.6,846.1 2064.9,860.6 2068.3,872.2 2070.7,951.7 2074.1,985.6 2076.6,1065.3 2079.9,1199.9 2083.2,1181.3 2086.5,1237.2 2089.8,1079.8 2093.1,1115.0 2096.4,1110.9 2099.8,1134.9 2103.1,1062.0 2106.4,1071.5 2109.7,1090.2 2112.2,1128.3 2115.5,1119.2 2118.8,1110.9 2122.1,1110.0 2125.4,1099.3 2128.7,1126.6 2132.0,1101.8 2134.5,1103.4 2137.8,1044.6 2141.2,1042.5 2144.5,1052.1 2147.8,1081.9 2151.1,1181.3 2154.4,1149.0 2159.4,1149.0 2163.5,1154.3 2166.8,1195.8 2170.1,1144.0 2173.5,1195.8 2175.9,1185.4 2179.3,1218.5 2182.6,1297.2 2185.9,1274.4 2189.2,1259.9 2191.7,1237.2 2195.8,1215.2 2199.1,1237.2 2202.4,1227.6 2205.8,1190.4 2208.2,1199.9 2211.6,1249.6 2214.9,1260.8 2218.2,1239.2 2221.5,1221.8 2224.8,1164.7 2228.1,1131.6 2231.4,1110.0 2233.9,1123.3 2237.2,1095.1 2240.5,1092.2 2243.9,1123.3 2247.2,1094.3 2250.5,1073.6 2256.3,1090.2 2259.6,1115.0 2262.9,1189.5 2266.2,1227.6 2269.5,1233.0 2272.8,1202.8 2276.1,1202.0 2279.5,1190.4 2282.8,1198.7 2285.3,1190.4 2288.6,1223.5 2291.9,1216.5 2295.2,1192.9 2298.5,1173.8 2301.0,1176.3 2304.3,1103.4 2307.6,1111.7 2311.8,1110.9 2314.2,1112.9 2317.6,1098.4 2320.9,1094.3 2324.2,1052.1 2327.5,1086.0 2330.8,1106.7 2334.1,1149.0 2336.6,1147.3 2339.9,1191.6 2343.2,1170.9 2346.5,1158.5 2349.9,1125.4 2353.2,1097.6 2356.5,1089.3 2359.8,1154.3 2363.1,1156.4 2366.4,1164.7 2369.7,1186.2 2373.0,1210.2 2375.5,1197.8 2378.8,1073.6 2381.3,990.8 2384.6,961.0 2387.1,897.6 2391.3,876.5 2394.6,810.2 2397.5,853.7 2400.4,876.5 2403.7,925.4 2407.8,907.6 2411.1,897.2 2414.0,917.9 2416.9,869.0 2420.2,905.5 2423.6,920.0 2426.9,816.5 2429.8,824.7 2432.7,804.0 2436.0,814.4 2439.3,797.8 2442.6,826.8 2445.9,717.1 2449.2,741.9 2452.5,735.7 2455.9,700.5 2458.3,699.3 2461.7,721.2 2465.0,729.5 2468.3,659.1 2471.2,675.7 2474.9,610.7 2478.2,611.5 2481.5,609.4 2484.4,698.4 2487.7,724.1 2490.6,662.0 2494.0,647.9 2497.3,639.6 2500.6,650.8 2503.9,623.9 2507.2,615.6 2510.5,644.6 2513.4,739.9 2516.3,795.8 2519.6,778.0 2522.9,824.7 2526.3,844.2 2529.6,795.8 2532.9,770.9 2536.2,769.7 2539.5,824.7 2542.4,826.8 2545.7,802.0 2548.6,817.7 2551.9,817.7 2555.2,826.0 2558.6,817.7 2561.9,785.4 2565.2,731.6 2568.5,717.1 2571.4,723.3 2574.3,706.7 2577.6,808.2 2580.9,828.9 2584.2,864.9 2587.5,845.4 2590.8,842.5 2594.2,849.6 2597.5,895.1 2600.4,864.1 2603.3,784.6 2606.6,833.0 2609.9,777.1 2613.2,831.0 2616.5,868.2 2619.0,843.4 2622.3,826.8 2625.6,857.9 2628.9,823.5 2632.3,831.8 2635.6,831.0 2638.9,857.9 2642.2,880.6 2645.5,917.9 2648.8,905.5 2652.1,849.6 2654.6,837.2 2657.9,888.9 2662.5,994.9 2664.6,997.0 2667.0,1057.0 2670.4,1034.3 2673.7,1081.9 2677.0,1104.7 2680.3,1100.5 2683.2,1102.6 2686.1,1089.3 2689.4,1112.9 2692.7,1055.0 2695.6,1081.9 2699.8,1061.2 2702.7,1077.7 2706.0,1088.1 2709.3,1052.9 2712.2,1084.0 2715.1,1067.4 2718.4,1055.0 2721.7,1088.1 2725.0,1042.5 2728.3,1020.6 2731.6,1154.3 2734.9,1164.7 2738.3,1241.3 2741.2,1255.8 2744.1,1288.9 2747.4,1301.3 2750.7,1154.3 2754.0,1338.6 2757.3,1328.3 2760.6,1288.9 2763.9,1306.3 2767.2,1341.9 2770.6,1307.6 2773.0,1370.1 2776.4,1502.6 2780.5,1469.5 2785.5,1503.4 2789.6,1469.5 2792.9,1460.4 2796.2,1489.3 2799.5,1465.3 2802.0,1463.3 2805.3,1388.7 2808.7,1432.2 2812.0,1441.3 2815.3,1428.1 2818.6,1416.5 2821.9,1376.3 2825.2,1384.6 2828.5,1415.6 2831.0,1419.8 2834.3,1481.9 2837.6,1527.4 2841.0,1539.9 2844.3,1531.6 2846.7,1479.8 2850.1,1548.1 2852.5,1535.7 2855.9,1535.7 2859.2,1544.8 2862.8,1696.8 2866.2,1719.3 2869.7,1780.3 2872.8,1634.0 2875.9,1742.4 2879.3,1707.2 2882.1,1652.0 2885.5,1684.7 2889.0,1666.5 2891.8,1691.6 2895.2,1700.3 2901.4,1692.7 2904.9,1674.4 2908.3,1693.4 2911.4,1698.6 2914.5,1572.6 2918.0,1548.4 2921.4,1565.0 2924.2,1555.3 2927.6,1531.9 2930.4,1551.2 2933.9,1545.7 2937.3,1546.7 2940.1,1549.1 2942.8,1520.8 2946.3,1518.1 2949.7,1523.6 2953.2,1537.4 2955.9,1531.9 2959.4,1535.3 2962.8,1538.1 2966.1,1300.6 2969.5,1235.4 2972.3,1123.0 2975.4,1154.7 2978.8,1164.0 2981.9,1080.1 2985.0,1108.1 2988.1,1138.5 2991.2,1143.8 2994.7,1173.3 2998.4,1160.2 3001.5,1148.4 3004.6,1149.1 3007.7,1137.6 3010.8,1087.0 3013.9,1150.0 3017.0,1146.9 3020.1,1139.1 3023.2,1131.4 3026.3,1088.8 3030.1,1079.5 3033.2,1101.9 3036.3,1146.9 3040.0,1147.8 3043.1,1142.9 3046.2,1111.8 3049.3,1117.4 3052.4,1111.8 3055.5,1201.9 3058.6,1170.2 3062.0,1150.0 3064.8,1156.2 3068.0,1086.3 3072.0,1022.7 3075.1,1039.8 3078.2,1094.1 3081.3,1120.5 3084.4,1146.9 3087.5,1139.8 3090.6,1140.7 3093.7,1155.3 3096.8,1150.0 3099.9,1150.9 3103.0,1193.5 3107.1,1263.4 3110.2,1296.0 3113.3,1201.2 3117.0,1185.1 3120.7,1199.7 3124.8,1200.6 3129.4,1191.9 3132.5,1161.5 3135.7,1166.5 3139.4,1206.8 3142.5,1128.3 3145.6,1119.9 3148.7,1157.1 3152.7,1153.1 3155.2,1129.2 3158.9,1141.6 3162.0,1106.5 3165.2,1030.4 3168.3,967.7 3171.4,965.2 3174.5,970.8 3177.6,960.6 3180.7,941.9 3183.5,884.2 3187.6,809.6 3191.8,772.4 3194.7,747.5 3198.0,737.2 3200.5,684.6 3204.2,683.3 3207.1,687.5 3210.4,724.7 3213.7,701.1 3218.7,690.4 3222.8,650.2 3225.7,670.9 3229.0,672.2 3231.9,668.8 3236.1,697.8 3238.6,772.4 3241.9,803.4 3245.2,768.2 3248.5,697.0 3251.8,730.1 3255.9,681.3 3259.3,635.7 3261.7,608.8 3264.2,538.4 3270.4,546.7 3274.2,455.6 3277.5,411.3 3280.8,459.7 3284.1,488.7 3287.0,492.9 3289.9,480.4 3293.2,523.9 3296.5,589.3 3299.8,517.7 3303.1,547.9 3306.5,391.4 3309.8,403.0 3313.1,403.0 3316.0,506.5 3318.9,448.6 3322.2,472.2 3325.5,472.2 3328.8,510.7 3332.1,507.3 3335.4,502.4 3338.8,521.8 3342.1,520.6 3344.6,486.6 3347.9,527.2 3351.2,524.7 3354.5,534.3 3357.8,526.0 3362.8,524.7 3366.1,516.5 3369.4,486.6 3373.5,420.4 3377.7,432.8 3381.0,447.3 3384.3,468.0 3387.6,473.4 3390.1,450.2 3393.4,451.4 3396.7,480.4 3400.9,479.2 3403.4,486.6 3405.8,552.9 3409.2,563.3 3412.5,567.4 3414.9,648.1 3418.3,602.6 3421.6,604.7 3425.7,565.3 3429.0,550.8 3431.9,568.6 3434.8,511.5 3438.1,475.1 3441.4,470.1 3444.8,476.3 3448.1,470.1 3450.6,426.6 3453.9,486.6 3457.2,468.0 3460.5,507.3 3463.0,656.4 3466.3,686.2 3469.6,568.6 3473.7,542.5 3477.9,584.0 3482.0,635.7 3486.2,659.7 3490.3,631.6 3493.6,617.1 3496.9,618.3 3500.2,651.4 3502.7,668.8 3506.9,639.9 3510.2,626.6 3512.7,623.3 3515.2,566.1 3518.5,575.7 3521.8,615.0 3525.1,639.9 3528.4,669.7 3531.7,655.6 3535.9,644.8 3538.3,639.9 3541.4,744.7 3543.9,841.6 3546.8,794.4 3549.8,831.7 3553.0,790.7 3556.3,801.9 3559.3,741.0 3562.2,746.0 3564.2,769.6 3566.2,796.4 3569.2,796.9 3571.2,839.1 3572.9,871.4 3575.7,905.0 3578.6,885.8 3581.6,916.1 3585.3,937.3 3588.6,901.7 3591.6,931.1 3594.0,978.3 3596.0,1018.0 3598.0,1044.1 3601.5,1041.6 3604.5,1027.5 3607.7,965.3 3610.9,964.6 3613.9,939.0 3616.9,942.2 3620.1,936.5 3623.4,952.2 3626.8,952.2 3630.3,1029.2 3633.3,948.4 3636.8,876.9 3640.0,897.5 3643.2,939.8 3646.7,932.3 3649.9,924.8 3652.7,903.7 3656.1,829.7 3659.1,828.0 3662.6,859.0 3666.1,914.9 3669.1,905.0 3672.5,924.8 3675.5,962.1 3678.5,963.4 3682.0,1014.3 3685.0,1017.5 3688.0,957.1 3690.9,957.1 3693.9,948.0 3697.4,945.5 3700.4,962.1 3703.9,969.6 3707.3,986.2 3710.8,977.8 3714.3,968.8 3717.3,968.3 3720.2,973.3 3723.7,960.4 3726.7,960.9 3729.7,949.7 3732.7,901.2 3735.7,900.0 3739.4,893.8 3743.1,888.8"/>
<rect x="66" y="389" width="140" height="95" fill="#4d33e6"/>
<text x="81" y="458.8" font-size="50" fill="#fff" textLength="109" lengthAdjust="spacingAndGlyphs">0.76*</text>
<rect x="3767" y="832" width="146" height="95" fill="#111114"/>
<text x="3780" y="901.4" font-size="51" fill="#fff" textLength="118" lengthAdjust="spacingAndGlyphs">$3.1K</text>
<text x="3401" y="2193.6" font-size="38.5" fill="#6c6b78" textLength="499" lengthAdjust="spacingAndGlyphs">© CryptoQuant. All rights reserved</text>
</svg>
</body></html>
